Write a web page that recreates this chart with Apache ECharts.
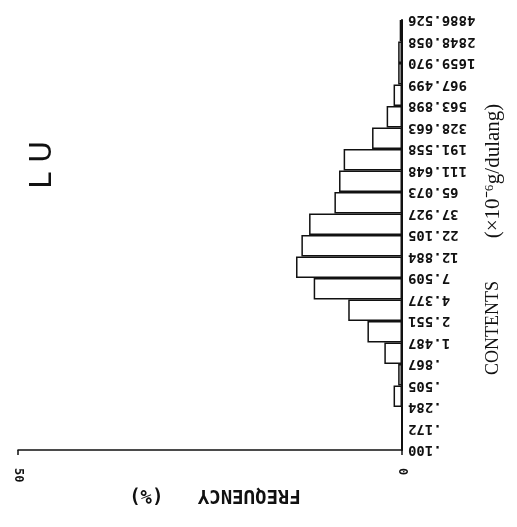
<!DOCTYPE html>
<html>
<head>
<meta charset="utf-8">
<script src="https://cdn.jsdelivr.net/npm/echarts@6/dist/echarts.min.js"></script>
<style>
html, body { margin: 0; padding: 0; background: #fff; }
#block1 { width: 517px; height: 527px; }
</style>
</head>
<body>
<div id="block1"></div>
<script>
// class boundaries (x10^-6 g/dulang), bottom to top
var bounds = ['.100', '.172', '.284', '.505', '.867', '1.487', '2.551', '4.377', '7.509', '12.884',
  '22.105', '37.927', '65.073', '111.648', '191.558', '328.663', '563.898', '967.499',
  '1659.970', '2848.058', '4886.526'];
// one bin between each pair of boundaries
var bins = bounds.slice(0, -1).map(function (b, i) { return b + '-' + bounds[i + 1]; });
// frequency (%) per bin, bottom to top
var freq = [0, 0, 1.1, 0.5, 2.3, 4.5, 7.0, 11.5, 13.8, 13.1, 12.1, 8.8, 8.2, 7.6, 3.9, 2.0, 1.1, 0.5, 0.5, 0.3];
var freqTicks = [0, 50];

var ink = '#111';

var option1 = {
  animation: false,
  backgroundColor: '#fff',
  grid: { left: 18, right: 115, top: 20, bottom: 77 },
  xAxis: {
    type: 'value',
    inverse: true,
    min: freqTicks[0],
    max: freqTicks[1],
    interval: freqTicks[1] - freqTicks[0],
    axisLine: { show: true, lineStyle: { color: ink, width: 1.5 } },
    axisTick: { show: true, length: 5, lineStyle: { color: ink, width: 1.5 } },
    splitLine: { show: false },
    axisLabel: {
      rotate: -90, margin: 18, color: ink,
      fontFamily: 'DejaVu Sans Mono', fontWeight: 'bold', fontSize: 12
    }
  },
  yAxis: [{
    type: 'category',
    data: bins,
    position: 'right',
    axisLine: { show: true, lineStyle: { color: ink, width: 2 } },
    axisTick: { show: false },
    axisLabel: { show: false }
  }, {
    type: 'category',
    data: bounds,
    boundaryGap: false,
    position: 'right',
    axisLine: { show: false },
    axisTick: { show: false },
    axisLabel: {
      rotate: 180, margin: 6, color: ink,
      fontFamily: 'DejaVu Sans Mono', fontWeight: 'bold', fontSize: 14
    }
  }],
  series: [{
    type: 'bar',
    yAxisIndex: 0,
    data: freq,
    barCategoryGap: '0%',
    itemStyle: { color: '#fff', borderColor: ink, borderWidth: 1.5 }
  }],
  graphic: [{
    type: 'text', x: 215, y: 495, rotation: Math.PI,
    style: {
      text: 'FREQUENCY   (%)', fill: ink, align: 'center', verticalAlign: 'middle',
      font: 'bold 19px "DejaVu Sans Mono"'
    }
  }, {
    type: 'text', x: 493, y: 328, rotation: Math.PI / 2,
    style: {
      text: 'CONTENTS', fill: ink, align: 'center', verticalAlign: 'middle',
      font: '18px "Liberation Serif"'
    }
  }, {
    type: 'text', x: 493, y: 171, rotation: Math.PI / 2,
    style: {
      text: '(×10⁻⁶g/dulang)', fill: ink, align: 'center', verticalAlign: 'middle',
      font: '21px "Liberation Serif"'
    }
  }, {
    type: 'text', x: 43, y: 165, rotation: Math.PI / 2,
    style: {
      text: 'L U', fill: ink, align: 'center', verticalAlign: 'middle',
      font: '30px "DejaVu Sans"'
    }
  }]
};

var myChart1 = echarts.init(document.getElementById('block1'));
myChart1.setOption(option1);
</script>
</body>
</html>
